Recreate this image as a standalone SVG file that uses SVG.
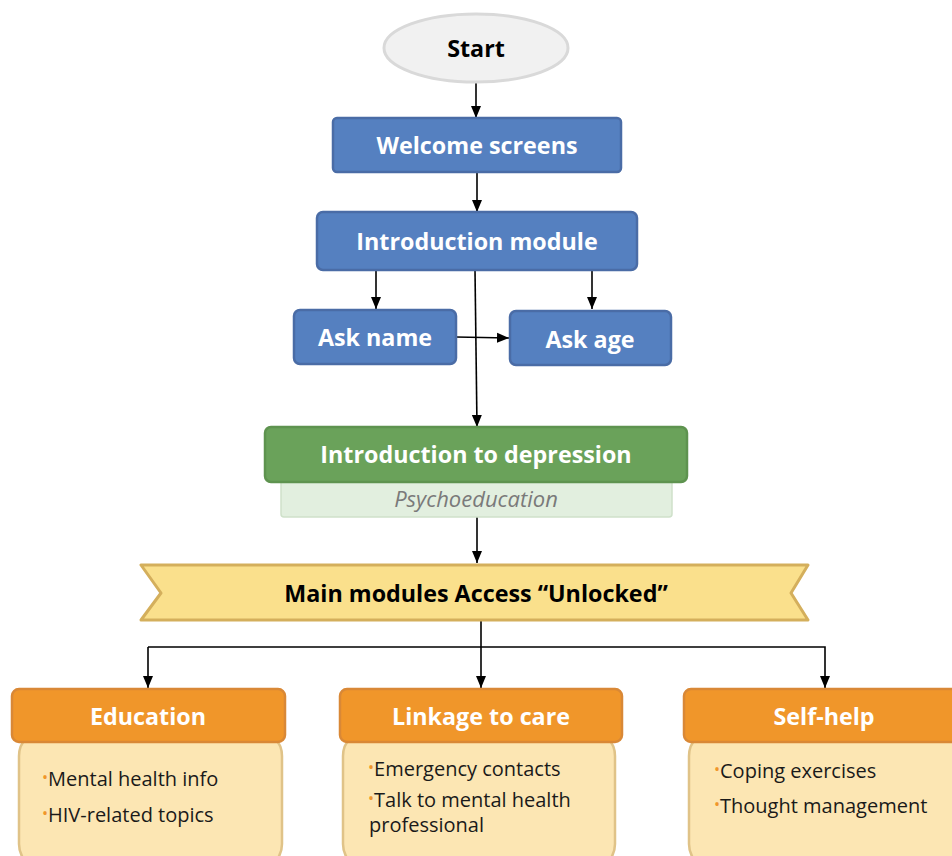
<svg xmlns="http://www.w3.org/2000/svg" width="952" height="856" viewBox="0 0 952 856">
<defs>
<marker id="arr" viewBox="0 0 12 12" refX="12" refY="6" markerWidth="12" markerHeight="12" markerUnits="userSpaceOnUse" orient="auto">
<path d="M0,1 L12,6 L0,11 Z" fill="#000"/>
</marker>
<style>
.blue{fill:#5580c0;stroke:#4a6ca6;stroke-width:2.5}
.bt{font-family:"Open Sans",sans-serif;font-weight:bold;font-size:23.3px;fill:#fff;text-anchor:middle;dominant-baseline:central}
.hdr{fill:#f0962a;stroke:#d98836;stroke-width:2.5}
.body{fill:#fce6b3;stroke:#e0c388;stroke-width:2.5}
.it{font-family:"Open Sans",sans-serif;font-size:20px;fill:#1a1a1a}
.dot{fill:#f0962a;font-size:16px}
.ln{fill:none;stroke:#000;stroke-width:1.6}
</style>
</defs>
<rect width="952" height="856" fill="#fff"/>
<g id="connectors">
<line class="ln" x1="476" y1="83" x2="476" y2="118" marker-end="url(#arr)"/>
<line class="ln" x1="477" y1="172" x2="477" y2="212" marker-end="url(#arr)"/>
<line class="ln" x1="376" y1="270" x2="376" y2="309" marker-end="url(#arr)"/>
<line class="ln" x1="592" y1="270" x2="592" y2="309" marker-end="url(#arr)"/>
<line class="ln" x1="475" y1="270" x2="477" y2="427" marker-end="url(#arr)"/>
<line class="ln" x1="456" y1="337" x2="509" y2="338" marker-end="url(#arr)"/>
<line class="ln" x1="477" y1="517" x2="477" y2="563" marker-end="url(#arr)"/>
<line class="ln" x1="481" y1="620" x2="481" y2="688" marker-end="url(#arr)"/>
<polyline class="ln" points="148,647 825,647 825,688" marker-end="url(#arr)"/>
<line class="ln" x1="148" y1="647" x2="148" y2="688" marker-end="url(#arr)"/>
</g>
<g id="start">
<ellipse cx="476" cy="48" rx="92" ry="34" fill="#f1f1f1" stroke="#d9d9d9" stroke-width="3"/>
<text x="476" y="48" class="bt" style="fill:#000">Start</text>
</g>
<g id="welcome">
<rect class="blue" x="333" y="118" width="288" height="54" rx="4"/>
<text x="477" y="145" class="bt">Welcome screens</text>
</g>
<g id="intro">
<rect class="blue" x="317" y="212" width="320" height="58" rx="6"/>
<text x="477" y="241" class="bt">Introduction module</text>
</g>
<g id="askname">
<rect class="blue" x="294" y="310" width="162" height="54" rx="6"/>
<text x="375" y="337" class="bt">Ask name</text>
</g>
<g id="askage">
<rect class="blue" x="510" y="311" width="161" height="54" rx="6"/>
<text x="590" y="339" class="bt">Ask age</text>
</g>
<g id="depression">
<rect x="281" y="480" width="391" height="37" rx="3" fill="#e2efdf" stroke="#cfe1ca" stroke-width="1.5"/>
<text x="476" y="498" font-family="'Open Sans',sans-serif" font-style="italic" font-size="22" fill="#7a7a7a" text-anchor="middle" dominant-baseline="central">Psychoeducation</text>
<rect x="265" y="427" width="422" height="55" rx="6" fill="#6aa25a" stroke="#5e934f" stroke-width="2.5"/>
<text x="476" y="454" class="bt">Introduction to depression</text>
</g>
<g id="unlocked">
<polygon points="141,565 808,565 791,593 808,620 141,620 161,593" fill="#fae08c" stroke="#d4af5c" stroke-width="3" stroke-linejoin="round"/>
<text x="476" y="593" class="bt" style="fill:#000">Main modules Access “Unlocked”</text>
</g>
<g id="education">
<rect class="body" x="19" y="730" width="263" height="140" rx="26"/>
<rect class="hdr" x="12" y="689" width="273" height="53" rx="7"/>
<text x="148" y="716" class="bt">Education</text>
<text x="42" y="786" class="it"><tspan class="dot" dy="-3">•</tspan><tspan dy="3">Mental health info</tspan></text>
<text x="42" y="822" class="it"><tspan class="dot" dy="-3">•</tspan><tspan dy="3">HIV-related topics</tspan></text>
</g>
<g id="linkage">
<rect class="body" x="343" y="730" width="272" height="140" rx="26"/>
<rect class="hdr" x="340" y="689" width="282" height="53" rx="7"/>
<text x="481" y="716" class="bt">Linkage to care</text>
<text x="368" y="776" class="it"><tspan class="dot" dy="-3">•</tspan><tspan dy="3">Emergency contacts</tspan></text>
<text x="368" y="807" class="it"><tspan class="dot" dy="-3">•</tspan><tspan dy="3">Talk to mental health</tspan></text>
<text x="369" y="832" class="it">professional</text>
</g>
<g id="selfhelp">
<rect class="body" x="689" y="730" width="290" height="140" rx="26"/>
<rect class="hdr" x="684" y="689" width="290" height="53" rx="7"/>
<text x="824" y="716" class="bt">Self-help</text>
<text x="714" y="778" class="it"><tspan class="dot" dy="-3">•</tspan><tspan dy="3">Coping exercises</tspan></text>
<text x="714" y="813" class="it"><tspan class="dot" dy="-3">•</tspan><tspan dy="3">Thought management</tspan></text>
</g>
</svg>
